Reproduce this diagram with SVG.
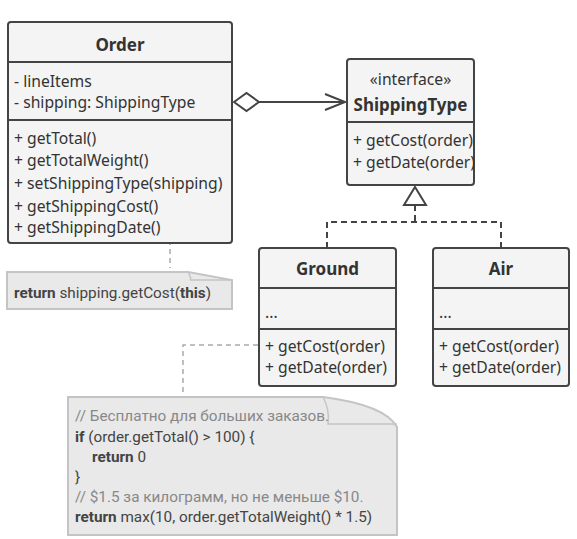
<svg xmlns="http://www.w3.org/2000/svg" width="577" height="539" viewBox="0 0 577 539">
<style>
.box{fill:#f4f4f4;stroke:#444;stroke-width:2}
.div{stroke:#444;stroke-width:2}
.t{font-family:"Noto Sans","Open Sans",sans-serif;font-size:15.7px;fill:#333}
.b{font-weight:bold}
.title{font-family:"Noto Sans","Open Sans",sans-serif;font-size:17px;font-weight:bold;fill:#333;text-anchor:middle}
.note{fill:#e9e9e9;stroke:#c4c4c4;stroke-width:2}
.fold{fill:none;stroke:#c4c4c4;stroke-width:1.5}
.code{font-family:"Roboto","Noto Sans",sans-serif;font-size:15.3px;fill:#444}
.cm{fill:#888}
.dash{fill:none;stroke:#444;stroke-width:2;stroke-dasharray:6,4}
.ndash{fill:none;stroke:#aaa;stroke-width:1.5;stroke-dasharray:5,4}
</style>
<g id="connectors">
<path class="ndash" d="M170,213 V268"/>
<circle cx="170" cy="208" r="4" fill="#f4f4f4" stroke="#aaa" stroke-width="1.5"/>
<path class="ndash" d="M258,345 H183 V394"/>
<path d="M234,102 L246.5,93 L259,102 L246.5,111 Z" fill="#fff" stroke="#444" stroke-width="2"/>
<path d="M259,102 H345" stroke="#444" stroke-width="2" fill="none"/>
<path d="M325,94 L345,102 L325,110" stroke="#444" stroke-width="2" fill="none"/>
<path d="M415,187 L426,205 L404,205 Z" fill="#fff" stroke="#444" stroke-width="2"/>
<path class="dash" d="M415,205 V222 M327,248 V222 H501 V248"/>
</g>
<g id="Order">
<rect class="box" x="8" y="22" width="224" height="221" rx="3"/>
<line class="div" x1="8" y1="62" x2="232" y2="62"/>
<line class="div" x1="8" y1="120" x2="232" y2="120"/>
<text class="title" x="120" y="51">Order</text>
<text class="t" x="14" y="87">- lineItems</text>
<text class="t" x="14" y="108">- shipping: ShippingType</text>
<text class="t" x="14" y="144">+ getTotal()</text>
<text class="t" x="14" y="166">+ getTotalWeight()</text>
<text class="t" x="14" y="189">+ setShippingType(shipping)</text>
<text class="t" x="14" y="212">+ getShippingCost()</text>
<text class="t" x="14" y="233">+ getShippingDate()</text>
</g>
<g id="ShippingType">
<rect class="box" x="347" y="59" width="127" height="126" rx="3"/>
<line class="div" x1="347" y1="122" x2="474" y2="122"/>
<text class="t" x="410.5" y="85" text-anchor="middle">«interface»</text>
<text class="title" x="410.5" y="111">ShippingType</text>
<text class="t" x="353" y="146">+ getCost(order)</text>
<text class="t" x="353" y="168">+ getDate(order)</text>
</g>
<g id="Ground">
<rect class="box" x="259" y="248" width="137" height="138" rx="3"/>
<line class="div" x1="259" y1="288" x2="396" y2="288"/>
<line class="div" x1="259" y1="329" x2="396" y2="329"/>
<text class="title" x="327.5" y="275">Ground</text>
<text class="t" x="265" y="318">...</text>
<text class="t" x="265" y="352">+ getCost(order)</text>
<text class="t" x="265" y="373">+ getDate(order)</text>
</g>
<g id="Air">
<rect class="box" x="433" y="248" width="136" height="138" rx="3"/>
<line class="div" x1="433" y1="288" x2="569" y2="288"/>
<line class="div" x1="433" y1="329" x2="569" y2="329"/>
<text class="title" x="501" y="275">Air</text>
<text class="t" x="439" y="318">...</text>
<text class="t" x="439" y="352">+ getCost(order)</text>
<text class="t" x="439" y="373">+ getDate(order)</text>
</g>
<g id="note1">
<path class="note" d="M7,272 H188 L232,280 V309 H7 Z"/>
<path class="fold" d="M188,272 Q192,279 190,280 H232"/>
<text class="code" x="14" y="298"><tspan class="b">return</tspan> shipping.getCost(<tspan class="b">this</tspan>)</text>
</g>
<g id="note2">
<path class="note" d="M68,397 H323 Q385,405 397,427 V535 H68 Z"/>
<path class="fold" d="M323,397 Q330,410 328,424 H397"/>
<text class="code cm" x="75" y="421">// Бесплатно для больших заказов.</text>
<text class="code" x="75" y="442"><tspan class="b">if</tspan> (order.getTotal() &gt; 100) {</text>
<text class="code" x="92" y="462"><tspan class="b">return</tspan> 0</text>
<text class="code" x="75" y="482">}</text>
<text class="code cm" x="75" y="502">// $1.5 за килограмм, но не меньше $10.</text>
<text class="code" x="75" y="522"><tspan class="b">return</tspan> max(10, order.getTotalWeight() * 1.5)</text>
</g>
</svg>
